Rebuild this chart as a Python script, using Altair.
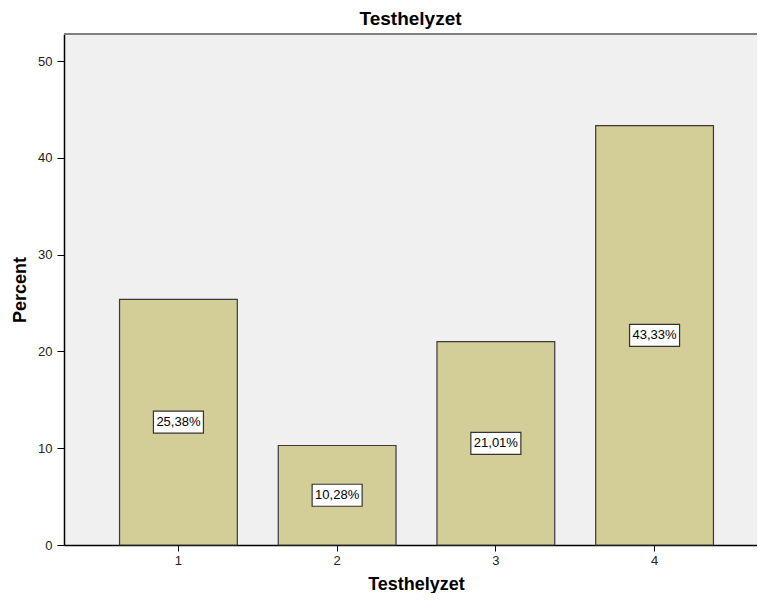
import altair as alt
import pandas as pd

categories = ["1", "2", "3", "4"]
percents = [25.38, 10.28, 21.01, 43.33]
labels = ["25,38%", "10,28%", "21,01%", "43,33%"]

df = pd.DataFrame({"cat": categories, "pct": percents, "label": labels})
df["mid"] = df["pct"] / 2

W, H = 693, 511

xscale = alt.Scale(range=[0, 705], paddingInner=0.258, paddingOuter=0.35)
xenc = alt.X("cat:N", sort=categories, scale=xscale,
             axis=alt.Axis(title="Testhelyzet", labelAngle=0, labelFont="Liberation Sans",
                           labelFontSize=13, labelColor="#222", tickColor="#000", tickSize=6,
                           domainColor="#000", domainWidth=1.5, labelPadding=3,
                           titleFont="Liberation Sans", titleFontSize=18, titleFontWeight="bold",
                           titleColor="#000", titleX=352, titleY=44,
                           titleBaseline="alphabetic", titleAlign="center"))
yscale = alt.Scale(domain=[0, 52.8], nice=False)

frame_top = alt.Chart(df).mark_rule(color="#808080", strokeWidth=2).encode(
    x=alt.value(0), x2=alt.value(W + 10), y=alt.value(0)
)

bars = alt.Chart(df).mark_bar(color="#D3CE97", stroke="#3a3a3a", strokeWidth=1.2).encode(
    x=xenc,
    y=alt.Y("pct:Q", scale=yscale,
            axis=alt.Axis(title="Percent", values=[0, 10, 20, 30, 40, 50], grid=False,
                          labelFont="Liberation Sans", labelFontSize=13, labelColor="#222",
                          tickColor="#000", tickSize=7, domainColor="#000", domainWidth=1.5,
                          labelPadding=5, titleFont="Liberation Sans", titleFontSize=18,
                          titleFontWeight="bold", titleColor="#000", titleX=-39, titleY=H / 2,
                          titleBaseline="alphabetic", titleAlign="center", titleAngle=270)),
)

boxes = alt.Chart(df).mark_point(
    shape="M-1,-0.44L1,-0.44L1,0.44L-1,0.44Z", filled=True, fill="white", stroke="#333",
    strokeWidth=1.2, opacity=1, size=2500,
).encode(x=alt.X("cat:N", sort=categories, scale=xscale), y=alt.Y("mid:Q", scale=yscale))

texts = alt.Chart(df).mark_text(font="Liberation Sans", fontSize=13, color="#000").encode(
    x=alt.X("cat:N", sort=categories, scale=xscale), y=alt.Y("mid:Q", scale=yscale),
    text="label:N"
)

chart = alt.layer(bars, boxes, texts, frame_top).properties(
    width=W, height=H,
    title=alt.TitleParams("Testhelyzet", font="Liberation Sans", fontSize=19,
                          fontWeight="bold", color="#000", offset=4, anchor="middle",
                          frame="group"),
    autosize=alt.AutoSizeParams(type="none"),
    padding={"left": 56, "top": 26, "right": 0, "bottom": 48},
).configure_view(fill="#F0F0F0", stroke=None)

chart.save("out.html", embed_options={"renderer": "svg", "actions": False})
